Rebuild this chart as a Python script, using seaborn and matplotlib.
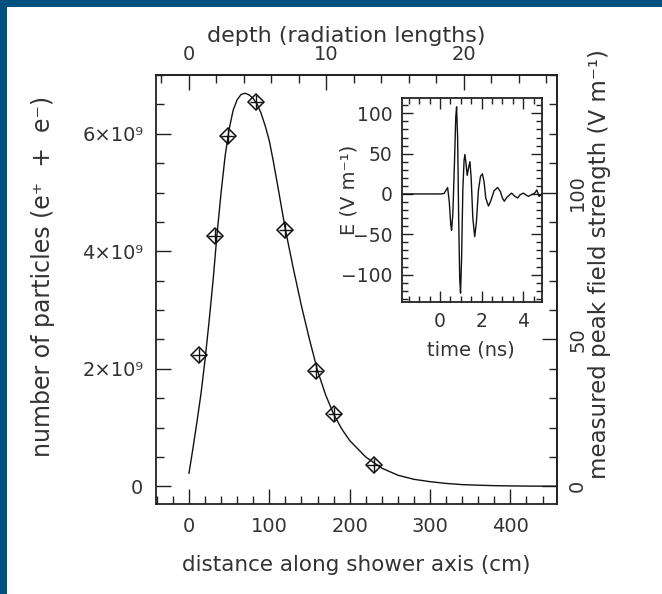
import numpy as np
import pandas as pd
import seaborn as sns
import matplotlib.pyplot as plt
from matplotlib.patches import Rectangle
from matplotlib.ticker import MultipleLocator

# measured particle numbers (diamonds)
meas_dist = [12, 32, 48, 84, 120, 158, 181, 230]
meas_particles = [2.23e9, 4.26e9, 5.96e9, 6.54e9, 4.37e9, 1.96e9, 1.23e9, 0.37e9]
meas_dist_err = [8, 8, 8, 8, 8, 8, 8, 8]
meas_particles_err = [0.12e9, 0.12e9, 0.12e9, 0.12e9, 0.12e9, 0.12e9, 0.12e9, 0.12e9]

# shower profile curve
curve_dist = [0, 5, 10, 15, 20, 25, 30, 35, 40, 45, 50, 55, 60, 65, 70, 75, 80, 85,
              90, 95, 100, 105, 110, 115, 120, 130, 140, 150, 160, 170, 180, 190, 200,
              220, 240, 260, 280, 300, 320, 340, 360, 380, 400, 420, 440, 460]
curve_particles = [0.22, 0.65, 1.10, 1.58, 2.15, 2.80, 3.50, 4.30, 5.00, 5.62, 6.08,
                   6.40, 6.58, 6.67, 6.69, 6.66, 6.60, 6.50, 6.34, 6.13, 5.88, 5.53,
                   5.15, 4.76, 4.37, 3.70, 3.07, 2.50, 1.97, 1.56, 1.23, 0.98, 0.78,
                   0.50, 0.31, 0.19, 0.12, 0.08, 0.05, 0.03, 0.02, 0.012, 0.008, 0.005,
                   0.003, 0.002]

# inset: measured field waveform
wave_t = [-1.8, -1.0, 0.0, 0.2, 0.3, 0.37, 0.45, 0.52, 0.56, 0.62, 0.70, 0.76, 0.80,
          0.85, 0.90, 0.95, 0.99, 1.04, 1.10, 1.16, 1.20, 1.25, 1.31, 1.37, 1.44,
          1.50, 1.58, 1.67, 1.75, 1.85, 1.95, 2.04, 2.12, 2.20, 2.33, 2.45, 2.60,
          2.77, 2.90, 3.00, 3.09, 3.22, 3.44, 3.60, 3.73, 3.85, 4.00, 4.12, 4.25,
          4.38, 4.49, 4.58, 4.65, 4.76, 4.90]
wave_e = [0, 0, 0, 0.5, 5, 8, -10, -38, -45, -25, 40, 95, 108, 70, -30, -105, -123,
          -80, 5, 42, 49, 38, 23, 32, 40, 20, -30, -53, -35, 5, 22, 25, 15, -5, -15,
          -8, 4, 8, 3, -5, -9, -4, 1, -3, -5, -1, 1, -1, -3, -1, 0, 2, 5, -3, 0]

# tick values / labels
particle_ticks = [0, 2e9, 4e9, 6e9]
particle_labels = ["0", "2×10⁹", "4×10⁹", "6×10⁹"]
field_ticks = [0, 50, 100]
depth_ticks = [0, 10, 20]
wave_ticks = [-100, -50, 0, 50, 100]
wave_labels = ["−100", "−50", "0", "50", "100"]

RAD_LEN_CM = 17.1          # cm per radiation length
PART_PER_VM = 5e7          # particles per V/m on the right scale

TXT = "#333333"
BLUE = "#02507f"

sns.set_theme(style="ticks")
plt.rcParams["font.family"] = ["DejaVu Sans"]
plt.rcParams["text.color"] = TXT
plt.rcParams["axes.labelcolor"] = TXT
plt.rcParams["xtick.color"] = "#222222"
plt.rcParams["ytick.color"] = "#222222"
plt.rcParams["xtick.labelcolor"] = TXT
plt.rcParams["ytick.labelcolor"] = TXT

fig = plt.figure(figsize=(6.62, 5.94), dpi=100, facecolor=BLUE)
fig.add_artist(Rectangle((7 / 662, 0), 1, 1 - 7 / 594, transform=fig.transFigure,
                         facecolor="white", edgecolor="none", zorder=-1))

ax = fig.add_axes([156 / 662, 1 - 504 / 594, 401 / 662, 429 / 594])

curve = pd.DataFrame({"dist": curve_dist, "n": np.array(curve_particles) * 1e9})
sns.lineplot(data=curve, x="dist", y="n", ax=ax, color="#111111", lw=1.0)
ax.errorbar(meas_dist, meas_particles, xerr=meas_dist_err, yerr=meas_particles_err,
            fmt="D", ms=8, mfc="none", mec="#111111", ecolor="#111111",
            elinewidth=1.0, mew=1.1, capsize=0)

ax.set_xlim(-41, 458)
ax.set_ylim(-0.3e9, 7.0e9)
ax.xaxis.set_major_locator(MultipleLocator(100))
ax.xaxis.set_minor_locator(MultipleLocator(20))
ax.yaxis.set_minor_locator(MultipleLocator(0.5e9))
ax.set_yticks(particle_ticks, particle_labels)
ax.tick_params(which="both", direction="in", top=False, right=False,
               labelsize=14, pad=9, width=1.0)
ax.tick_params(which="major", length=11)
ax.tick_params(which="minor", length=5.5)
for s in ax.spines.values():
    s.set_color("#222222")
    s.set_linewidth(1.3)

ax.set_xlabel("distance along shower axis (cm)", fontsize=15.5)
ax.set_ylabel("number of particles (e⁺  +  e⁻)", fontsize=17)
ax.xaxis.set_label_coords(0.5, -0.119)
ax.yaxis.set_label_coords(-0.252, 0.53)

# top axis: depth in radiation lengths
top = ax.secondary_xaxis("top", functions=(lambda x: x / RAD_LEN_CM,
                                            lambda d: d * RAD_LEN_CM))
top.set_xticks(depth_ticks)
top.xaxis.set_minor_locator(MultipleLocator(2))
top.tick_params(which="both", direction="in", labelsize=14, pad=8, width=1.0)
top.tick_params(which="major", length=11)
top.tick_params(which="minor", length=5.5)
top.set_xlabel("depth (radiation lengths)", fontsize=16)
top.xaxis.set_label_coords(0.474, 1.077, transform=ax.transAxes)

# right axis: measured peak field strength
right = ax.secondary_yaxis("right", functions=(lambda p: p / PART_PER_VM,
                                                lambda v: v * PART_PER_VM))
right.set_yticks(field_ticks)
right.yaxis.set_minor_locator(MultipleLocator(10))
right.tick_params(which="both", direction="in", labelsize=14, pad=8, width=1.0,
                  labelrotation=90)
right.tick_params(which="major", length=11)
right.tick_params(which="minor", length=5.5)
for lbl in right.get_yticklabels():
    lbl.set_va("center")
right.set_ylabel("measured peak field strength (V m⁻¹)", fontsize=16.5, rotation=90)
right.yaxis.set_label_coords(1.077, 0.56, transform=ax.transAxes)

# inset with the waveform
ins = fig.add_axes([402 / 662, 1 - 302 / 594, 140 / 662, 204 / 594])
wave = pd.DataFrame({"t": wave_t, "e": wave_e})
sns.lineplot(data=wave, x="t", y="e", ax=ins, color="#111111", lw=1.0)
ins.set_xlim(-1.82, 4.9)
ins.set_ylim(-134, 119)
ins.xaxis.set_major_locator(MultipleLocator(2))
ins.xaxis.set_minor_locator(MultipleLocator(0.5))
ins.yaxis.set_minor_locator(MultipleLocator(10))
ins.set_yticks(wave_ticks, wave_labels)
ins.tick_params(which="both", direction="in", top=True, right=True,
                labelsize=13.5, pad=7, width=1.0)
ins.tick_params(which="major", length=8)
ins.tick_params(which="minor", length=4)
for s in ins.spines.values():
    s.set_color("#222222")
    s.set_linewidth(1.3)
ins.set_xlabel("time (ns)", fontsize=14)
ins.set_ylabel("E (V m⁻¹)", fontsize=14)
ins.xaxis.set_label_coords(0.49, -0.19)
ins.yaxis.set_label_coords(-0.31, 0.55)

fig.savefig("out.png", dpi=100, facecolor=fig.get_facecolor())
